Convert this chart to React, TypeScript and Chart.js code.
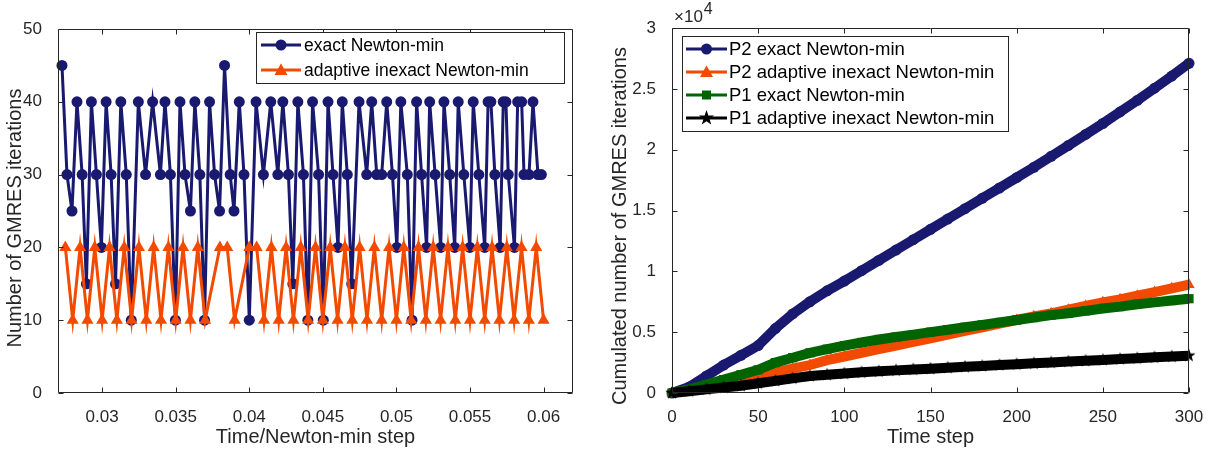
import React, { useEffect, useRef } from "react";
import { Chart, registerables } from "chart.js";

Chart.register(...registerables);

// ---------------- Left panel data ----------------
const exactTimes = [
  0.02727, 0.02761, 0.02795, 0.02829, 0.02864, 0.02893, 0.02927, 0.02961, 0.02995, 0.03027,
  0.03061, 0.03091, 0.03127, 0.03164, 0.03198, 0.03246, 0.03295, 0.03343, 0.03396, 0.03427,
  0.03464, 0.03498, 0.03529, 0.03563, 0.036, 0.0363, 0.03664, 0.03696, 0.0373, 0.03764,
  0.03798, 0.03832, 0.0387, 0.03896, 0.03932, 0.03964, 0.04, 0.04046, 0.04096, 0.04146,
  0.04194, 0.04228, 0.04266, 0.04296, 0.0433, 0.04368, 0.04398, 0.0443, 0.04471, 0.04503,
  0.04535, 0.04569, 0.04603, 0.04632, 0.04666, 0.04696, 0.04746, 0.04798, 0.04832, 0.04866,
  0.049, 0.04934, 0.04973, 0.05003, 0.0503, 0.05074, 0.05106, 0.05137, 0.05171, 0.05205,
  0.05226, 0.05263, 0.05301, 0.05323, 0.05362, 0.05396, 0.0542, 0.05458, 0.05499, 0.05522,
  0.0556, 0.056, 0.05623, 0.05642, 0.05669, 0.05705, 0.05726, 0.05744, 0.0576, 0.05802,
  0.05824, 0.05851, 0.05867, 0.05901, 0.05928, 0.05962, 0.05985,
];
const exactIters = [
  45, 30, 25, 40, 30, 15, 40, 30, 20, 40,
  30, 15, 40, 30, 10, 40, 30, 40, 30, 40,
  30, 10, 40, 30, 25, 40, 30, 10, 40, 30,
  25, 45, 30, 25, 40, 30, 10, 40, 30, 40,
  30, 40, 30, 15, 40, 30, 10, 40, 30, 10,
  40, 30, 20, 40, 30, 15, 40, 30, 40, 30,
  30, 40, 30, 20, 40, 30, 10, 40, 30, 20,
  40, 30, 20, 40, 30, 20, 40, 30, 20, 40,
  30, 20, 40, 40, 30, 20, 40, 40, 30, 20,
  40, 40, 30, 30, 40, 30, 30,
];
const adaptiveTimes = [
  0.0275, 0.028, 0.0285, 0.029, 0.0295, 0.03, 0.0305, 0.031, 0.0315, 0.032,
  0.0325, 0.033, 0.0335, 0.034, 0.0345, 0.035, 0.0355, 0.036, 0.0365, 0.037,
  0.038, 0.0385, 0.039, 0.04, 0.0405, 0.041,
  0.0415, 0.042, 0.0425, 0.043, 0.0435, 0.044, 0.0445, 0.045, 0.0455, 0.046,
  0.0465, 0.047, 0.0475, 0.048, 0.0485, 0.049, 0.0495, 0.05, 0.0505, 0.051,
  0.0515, 0.052, 0.0525, 0.053, 0.0535, 0.054, 0.0545, 0.055, 0.0555, 0.056,
  0.0565, 0.057, 0.0575, 0.058, 0.0585, 0.059, 0.0595, 0.06,
];
const adaptiveIters = [
  20, 10, 20, 10, 20, 10, 20, 10, 20, 10,
  20, 10, 20, 10, 20, 10, 20, 10, 20, 10,
  20, 20, 10, 20, 20, 10,
  20, 10, 20, 10, 20, 10, 20, 10, 20, 10,
  20, 10, 20, 10, 20, 10, 20, 10, 20, 10,
  20, 10, 20, 10, 20, 10, 20, 10, 20, 10,
  20, 10, 20, 10, 20, 10, 20, 10,
];
const leftXTicks = [0.03, 0.035, 0.04, 0.045, 0.05, 0.055, 0.06];
const leftXLabels = ["0.03", "0.035", "0.04", "0.045", "0.05", "0.055", "0.06"];
const leftYTicks = [0, 10, 20, 30, 40, 50];
const leftYLabels = ["0", "10", "20", "30", "40", "50"];
const leftLegendLabels = ["exact Newton-min", "adaptive inexact Newton-min"];
const leftXTitle = "Time/Newton-min step";
const leftYTitle = "Number of GMRES iterations";

// ---------------- Right panel data ----------------
const timeSteps = [
  0, 10, 20, 30, 40, 50, 60, 70, 80, 90, 100, 110, 120, 130, 140, 150,
  160, 170, 180, 190, 200, 210, 220, 230, 240, 250, 260, 270, 280, 290, 300,
];
const p2Exact = [
  0, 500, 1400, 2300, 3100, 3900, 5300, 6500, 7500, 8400, 9200, 10050, 10900, 11750, 12600, 13450,
  14300, 15150, 16000, 16850, 17700, 18550, 19450, 20350, 21250, 22150, 23100, 24050, 25050, 26050, 27100,
];
const p2Adaptive = [
  0, 250, 500, 800, 1100, 1400, 1700, 2000, 2300, 2700, 3000, 3300, 3600, 3900, 4200, 4500,
  4800, 5100, 5400, 5700, 6000, 6300, 6550, 6850, 7150, 7450, 7700, 8000, 8300, 8600, 8900,
];
const p1Exact = [
  0, 300, 700, 1100, 1500, 1900, 2500, 2900, 3300, 3600, 3900, 4150, 4400, 4600, 4800, 5000,
  5200, 5400, 5600, 5800, 6000, 6200, 6400, 6550, 6750, 6950, 7100, 7300, 7450, 7600, 7750,
];
const p1Adaptive = [
  0, 150, 300, 450, 600, 800, 1000, 1200, 1400, 1500, 1600, 1700, 1780, 1860, 1940, 2000,
  2080, 2150, 2220, 2300, 2370, 2440, 2510, 2580, 2650, 2720, 2790, 2860, 2930, 3000, 3070,
];
const rightXTicks = [0, 50, 100, 150, 200, 250, 300];
const rightXLabels = ["0", "50", "100", "150", "200", "250", "300"];
const rightYTicks = [0, 5000, 10000, 15000, 20000, 25000, 30000];
const rightYLabels = ["0", "0.5", "1", "1.5", "2", "2.5", "3"];
const rightLegendLabels = [
  "P2 exact Newton-min",
  "P2 adaptive inexact Newton-min",
  "P1 exact Newton-min",
  "P1 adaptive inexact Newton-min",
];
const rightXTitle = "Time step";
const rightYTitle = "Cumulated number of GMRES iterations";
const rightExponent = "4";

// ---------------- Styles ----------------
const FAMILY = "'Liberation Sans', Arial, Helvetica, sans-serif";
const AXIS = "#262626";
const NAVY = "#191970";
const ORANGE = "#f24a00";
const GREEN = "#006400";
const BLACK = "#000000";
const TICK_SIZE = 17;
const TITLE_SIZE = 20;

type Marker = "circle" | "triangle" | "square" | "star";

function starPath(ctx: CanvasRenderingContext2D, cx: number, cy: number, R: number, r: number) {
  ctx.beginPath();
  for (let k = 0; k < 10; k++) {
    const ang = -Math.PI / 2 + (k * Math.PI) / 5;
    const rad = k % 2 === 0 ? R : r;
    const px = cx + rad * Math.cos(ang);
    const py = cy + rad * Math.sin(ang);
    if (k === 0) ctx.moveTo(px, py);
    else ctx.lineTo(px, py);
  }
  ctx.closePath();
}

function drawMarker(ctx: CanvasRenderingContext2D, m: Marker, x: number, y: number, color: string) {
  ctx.fillStyle = color;
  if (m === "circle") {
    ctx.beginPath();
    ctx.arc(x, y, 5.5, 0, Math.PI * 2);
    ctx.fill();
  } else if (m === "triangle") {
    ctx.beginPath();
    ctx.moveTo(x, y - 6.5);
    ctx.lineTo(x + 6.5, y + 5);
    ctx.lineTo(x - 6.5, y + 5);
    ctx.closePath();
    ctx.fill();
  } else if (m === "square") {
    ctx.fillRect(x - 4.5, y - 4.5, 9, 9);
  } else {
    starPath(ctx, x, y, 8, 3.2);
    ctx.fill();
  }
}

interface LegendSpec {
  box: [number, number, number, number];
  rows: number[];
  lineX: [number, number];
  textX: number;
  fontSize: number;
  labels: string[];
  colors: string[];
  markers: Marker[];
  lineWidth: number;
}

interface FrameSpec {
  xTitle: string;
  yTitle: string;
  xTitleY: number;
  yTitleX: number;
  yTitleY: number;
  legend: LegendSpec;
  exponent?: { x: number; y: number; text: string };
}

function makeFramePlugin(spec: FrameSpec) {
  return {
    id: "matlabFrame",
    afterDraw(chart: any) {
      const ctx: CanvasRenderingContext2D = chart.ctx;
      const { left, right, top, bottom } = chart.chartArea;
      const xs = chart.scales.x;
      const ys = chart.scales.y;
      ctx.save();
      // frame + inward ticks
      ctx.strokeStyle = AXIS;
      ctx.lineWidth = 1;
      ctx.beginPath();
      const L = Math.round(left) + 0.5;
      const R = Math.round(right) - 0.5;
      const T = Math.round(top) + 0.5;
      const B = Math.round(bottom) - 0.5;
      ctx.rect(L, T, R - L, B - T);
      xs.ticks.forEach((t: any) => {
        const px = Math.round(xs.getPixelForValue(t.value)) + 0.5;
        ctx.moveTo(px, B);
        ctx.lineTo(px, B - 5);
        ctx.moveTo(px, T);
        ctx.lineTo(px, T + 5);
      });
      ys.ticks.forEach((t: any) => {
        const py = Math.round(ys.getPixelForValue(t.value)) + 0.5;
        ctx.moveTo(L, py);
        ctx.lineTo(L + 5, py);
        ctx.moveTo(R, py);
        ctx.lineTo(R - 5, py);
      });
      ctx.stroke();

      // axis titles
      ctx.fillStyle = AXIS;
      ctx.font = `${TITLE_SIZE}px ${FAMILY}`;
      ctx.textAlign = "center";
      ctx.textBaseline = "middle";
      ctx.fillText(spec.xTitle, (left + right) / 2, spec.xTitleY);
      ctx.save();
      ctx.translate(spec.yTitleX, spec.yTitleY);
      ctx.rotate(-Math.PI / 2);
      ctx.fillText(spec.yTitle, 0, 0);
      ctx.restore();

      // exponent label
      if (spec.exponent) {
        ctx.textAlign = "left";
        ctx.textBaseline = "alphabetic";
        ctx.font = `${TICK_SIZE}px ${FAMILY}`;
        const base = "\u00d710";
        ctx.fillText(base, spec.exponent.x, spec.exponent.y);
        const w = ctx.measureText(base).width;
        ctx.font = `${TICK_SIZE - 1}px ${FAMILY}`;
        ctx.fillText(spec.exponent.text, spec.exponent.x + w + 1, spec.exponent.y - 8);
      }

      // legend
      const lg = spec.legend;
      const [bx, by, bw, bh] = lg.box;
      ctx.fillStyle = "#ffffff";
      ctx.fillRect(bx, by, bw, bh);
      ctx.strokeStyle = AXIS;
      ctx.lineWidth = 1;
      ctx.strokeRect(bx + 0.5, by + 0.5, bw, bh);
      lg.labels.forEach((label, i) => {
        const y = lg.rows[i];
        ctx.strokeStyle = lg.colors[i];
        ctx.lineWidth = lg.lineWidth;
        ctx.beginPath();
        ctx.moveTo(lg.lineX[0], y);
        ctx.lineTo(lg.lineX[1], y);
        ctx.stroke();
        drawMarker(ctx, lg.markers[i], (lg.lineX[0] + lg.lineX[1]) / 2, y, lg.colors[i]);
        ctx.fillStyle = "#000000";
        ctx.font = `${lg.fontSize}px ${FAMILY}`;
        ctx.textAlign = "left";
        ctx.textBaseline = "middle";
        ctx.fillText(label, lg.textX, y + 1);
      });
      ctx.restore();
    },
  };
}

function axisScale(min: number, max: number, ticks: number[], labels: string[], isX: boolean, size: number) {
  return {
    type: "linear" as const,
    min,
    max,
    afterBuildTicks: (s: any) => {
      s.ticks = ticks.map((v) => ({ value: v }));
    },
    afterFit: (s: any) => {
      if (isX) s.height = size;
      else s.width = size;
    },
    grid: { display: false },
    border: { display: false },
    ticks: {
      callback: (_v: any, i: number) => labels[i],
      font: { family: FAMILY, size: TICK_SIZE },
      color: AXIS,
      padding: isX ? 6 : 8,
      maxRotation: 0,
      autoSkip: false,
    },
  };
}

function makeStar(color: string, R: number) {
  const c = document.createElement("canvas");
  const s = Math.ceil(R * 2 + 2);
  c.width = s;
  c.height = s;
  const ctx = c.getContext("2d")!;
  ctx.fillStyle = color;
  starPath(ctx, s / 2, s / 2, R, R * 0.4);
  ctx.fill();
  return c;
}

export default function App() {
  const leftRef = useRef<HTMLCanvasElement>(null);
  const rightRef = useRef<HTMLCanvasElement>(null);

  useEffect(() => {
    const leftChart = new Chart(leftRef.current!, {
      type: "line",
      data: {
        datasets: [
          {
            label: leftLegendLabels[0],
            data: exactTimes.map((t, i) => ({ x: t, y: exactIters[i] })),
            borderColor: NAVY,
            backgroundColor: NAVY,
            borderWidth: 3,
            pointRadius: 5.5,
            pointStyle: "circle",
            pointBackgroundColor: NAVY,
            pointBorderColor: NAVY,
            pointBorderWidth: 0,
            tension: 0,
            order: 2,
            clip: false,
          },
          {
            label: leftLegendLabels[1],
            data: adaptiveTimes.map((t, i) => ({ x: t, y: adaptiveIters[i] })),
            borderColor: ORANGE,
            backgroundColor: ORANGE,
            borderWidth: 3,
            pointRadius: 7,
            pointStyle: "triangle",
            pointBackgroundColor: ORANGE,
            pointBorderColor: ORANGE,
            pointBorderWidth: 0,
            tension: 0,
            order: 1,
            clip: false,
          },
        ],
      },
      options: {
        animation: false,
        responsive: false,
        events: [],
        layout: { padding: { left: 0, top: 29, right: 27, bottom: 0 } },
        plugins: { legend: { display: false }, tooltip: { enabled: false } },
        scales: {
          x: axisScale(0.027, 0.062, leftXTicks, leftXLabels, true, 59),
          y: axisScale(0, 50, leftYTicks, leftYLabels, false, 58),
        },
      } as any,
      plugins: [
        makeFramePlugin({
          xTitle: leftXTitle,
          yTitle: leftYTitle,
          xTitleY: 437,
          yTitleX: 15,
          yTitleY: 218,
          legend: {
            box: [256, 32, 308, 51],
            rows: [45, 70],
            lineX: [261, 301],
            textX: 304,
            fontSize: 17.5,
            labels: leftLegendLabels,
            colors: [NAVY, ORANGE],
            markers: ["circle", "triangle"],
            lineWidth: 3,
          },
        }) as any,
      ],
    });

    const star = makeStar(BLACK, 7);
    const mk = (label: string, vals: number[], color: string, style: any, radius: number, order: number) => ({
      label,
      data: timeSteps.map((t, i) => ({ x: t, y: vals[i] })),
      borderColor: color,
      backgroundColor: color,
      borderWidth: 10,
      pointRadius: radius,
      pointStyle: style,
      pointBackgroundColor: color,
      pointBorderColor: color,
      pointBorderWidth: 0,
      tension: 0,
      order,
      clip: false,
    });

    const rightChart = new Chart(rightRef.current!, {
      type: "line",
      data: {
        datasets: [
          mk(rightLegendLabels[0], p2Exact, NAVY, "circle", 5.5, 4),
          mk(rightLegendLabels[1], p2Adaptive, ORANGE, "triangle", 6.5, 3),
          mk(rightLegendLabels[2], p1Exact, GREEN, "rect", 6.5, 2),
          mk(rightLegendLabels[3], p1Adaptive, BLACK, star, 6, 1),
        ] as any,
      },
      options: {
        animation: false,
        responsive: false,
        events: [],
        layout: { padding: { left: 0, top: 28, right: 24, bottom: 0 } },
        plugins: { legend: { display: false }, tooltip: { enabled: false } },
        scales: {
          x: axisScale(0, 300, rightXTicks, rightXLabels, true, 59),
          y: axisScale(0, 30000, rightYTicks, rightYLabels, false, 72),
        },
      } as any,
      plugins: [
        makeFramePlugin({
          xTitle: rightXTitle,
          yTitle: rightYTitle,
          xTitleY: 437,
          yTitleX: 20,
          yTitleY: 226,
          exponent: { x: 74, y: 22, text: rightExponent },
          legend: {
            box: [82, 36, 326, 95],
            rows: [49, 72, 95, 118],
            lineX: [86, 127],
            textX: 129,
            fontSize: 18.5,
            labels: rightLegendLabels,
            colors: [NAVY, ORANGE, GREEN, BLACK],
            markers: ["circle", "triangle", "square", "star"],
            lineWidth: 3,
          },
        }) as any,
      ],
    });

    return () => {
      leftChart.destroy();
      rightChart.destroy();
    };
  }, []);

  return (
    <div style={{ position: "absolute", left: 0, top: 0, width: 1213, height: 452, background: "#ffffff" }}>
      <canvas ref={leftRef} width={600} height={452} style={{ position: "absolute", left: 0, top: 0 }} />
      <canvas ref={rightRef} width={613} height={452} style={{ position: "absolute", left: 600, top: 0 }} />
    </div>
  );
}
